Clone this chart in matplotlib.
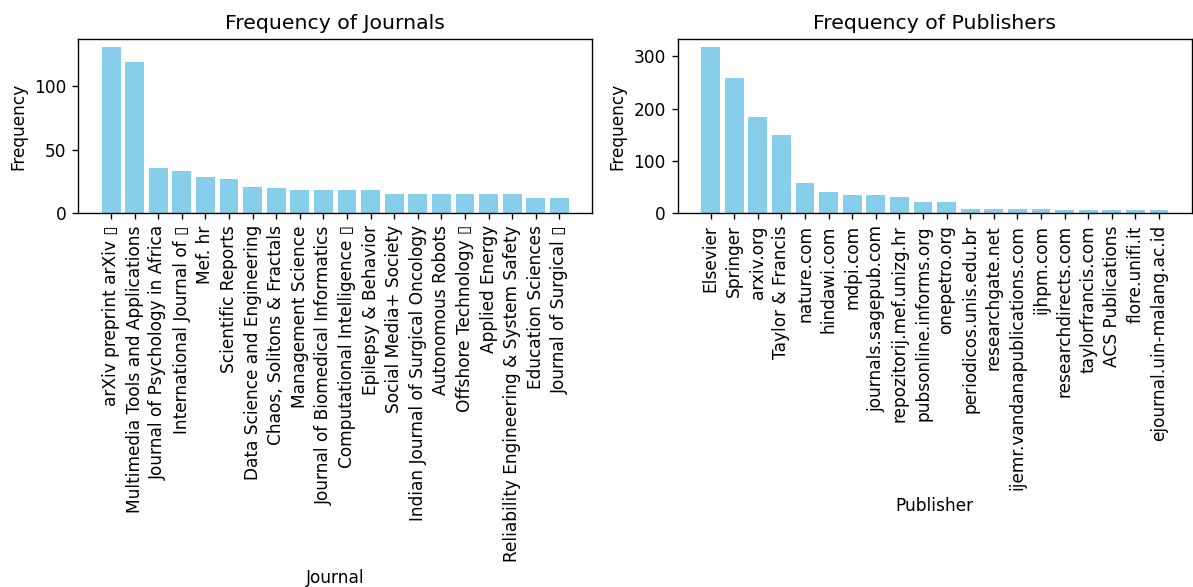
import matplotlib
matplotlib.use('Agg')
import matplotlib.pyplot as plt

# Journal counts
journals = [
    'arXiv preprint arXiv \u25af',
    'Multimedia Tools and Applications',
    'Journal of Psychology in Africa',
    'International Journal of \u25af',
    'Mef. hr',
    'Scientific Reports',
    'Data Science and Engineering',
    'Chaos, Solitons & Fractals',
    'Management Science',
    'Journal of Biomedical Informatics',
    'Computational Intelligence \u25af',
    'Epilepsy & Behavior',
    'Social Media+ Society',
    'Indian Journal of Surgical Oncology',
    'Autonomous Robots',
    'Offshore Technology \u25af',
    'Applied Energy',
    'Reliability Engineering & System Safety',
    'Education Sciences',
    'Journal of Surgical \u25af',
]
journal_counts = [131, 119, 36, 33, 29, 27, 21, 20, 18, 18, 18, 18, 15, 15, 15, 15, 15, 15, 12, 12]

# Publisher counts
publishers = [
    'Elsevier', 'Springer', 'arxiv.org', 'Taylor & Francis', 'nature.com',
    'hindawi.com', 'mdpi.com', 'journals.sagepub.com', 'repozitorij.mef.unizg.hr',
    'pubsonline.informs.org', 'onepetro.org', 'periodicos.unis.edu.br',
    'researchgate.net', 'ijemr.vandanapublications.com', 'ijhpm.com',
    'researchdirects.com', 'taylorfrancis.com', 'ACS Publications',
    'flore.unifi.it', 'ejournal.uin-malang.ac.id',
]
publisher_counts = [318, 258, 185, 150, 58, 40, 35, 35, 31, 21, 21, 9, 9, 9, 9, 7, 7, 7, 7, 7]

dpi = 122
fig, axs = plt.subplots(1, 2, figsize=(1193 / dpi, 587 / dpi), dpi=dpi)

axs[0].bar(journals, journal_counts, color='skyblue')
axs[0].set_title('Frequency of Journals')
axs[0].set_xlabel('Journal')
axs[0].set_ylabel('Frequency')
axs[0].tick_params(axis='x', rotation=90)

axs[1].bar(publishers, publisher_counts, color='skyblue')
axs[1].set_title('Frequency of Publishers')
axs[1].set_xlabel('Publisher')
axs[1].set_ylabel('Frequency')
axs[1].tick_params(axis='x', rotation=90)

# match the cropped layout of the original
fig.subplots_adjust(left=0.0656, right=0.9990, bottom=0.6366, top=0.934, wspace=0.1665)
plt.savefig('out.png', dpi=dpi)
